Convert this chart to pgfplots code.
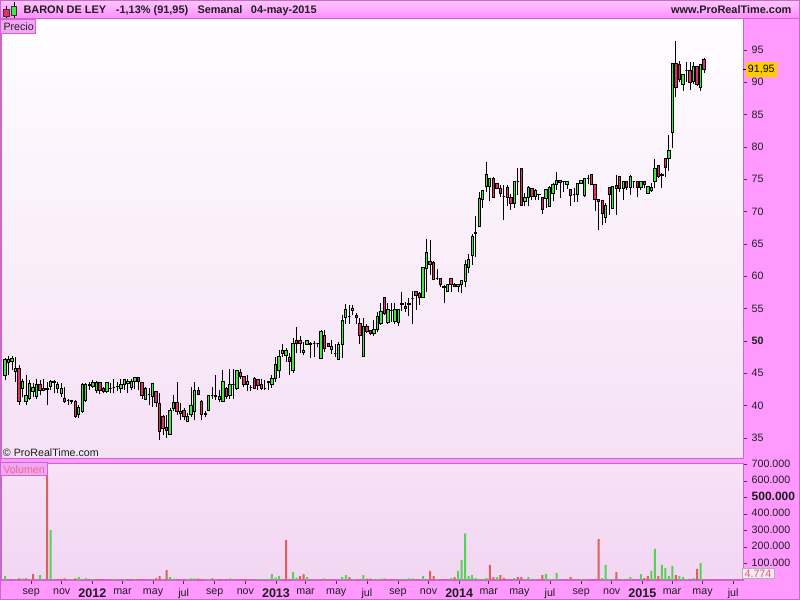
\documentclass[border=0pt]{standalone}
\usepackage{fontspec}
\setmainfont{Liberation Sans}
\usepackage{pgfplots}
\usepackage{pgfplotstable}
\pgfplotsset{compat=1.18}
\pgfdeclareplotmark{empty}{}

\definecolor{pinkbg}{RGB}{255,153,255}
\definecolor{border}{RGB}{204,102,204}
\definecolor{hdrtop}{RGB}{255,200,255}
\definecolor{hdrbot}{RGB}{255,140,255}
\definecolor{pricetop}{RGB}{255,253,255}
\definecolor{pricebot}{RGB}{245,225,245}
\definecolor{voltop}{RGB}{247,226,247}
\definecolor{volbot}{RGB}{242,214,242}
\definecolor{cgreen}{RGB}{60,235,60}
\definecolor{cred}{RGB}{228,48,100}
\definecolor{vgreen}{RGB}{85,210,85}
\definecolor{vred}{RGB}{222,95,95}
\definecolor{boxpink}{RGB}{245,165,245}
\definecolor{yellowbox}{RGB}{255,204,0}
\definecolor{voltext}{RGB}{232,110,125}
\definecolor{txt}{RGB}{30,30,30}
\definecolor{lastbox}{RGB}{250,232,250}

\newcommand\hdrfont{\fontsize{8.2}{9}\selectfont\bfseries}
\newcommand\yr[1]{{\fontsize{9.4}{10}\selectfont\bfseries #1}}

\pgfplotstableread{
i O H L C
0 44.6 47.3 43.9 47.2
1 46.6 47.7 44.7 47.2
2 46.8 47.7 45.5 47.3
3 45.3 47.6 43.7 45.7
4 45.7 46.3 40.1 40.6
5 42.7 44.1 41.4 43.8
6 40.6 44.7 40.1 41.6
7 41.1 44.0 40.9 43.5
8 42.2 43.5 41.4 42.8
9 41.4 44.2 41.1 43.2
10 43.2 44.0 41.6 42.3
11 42.3 44.2 42.2 42.7
12 42.6 43.7 40.1 42.5
13 42.9 44.0 42.4 43.7
14 43.7 43.9 42.0 43.6
15 42.7 43.7 41.9 43.3
16 41.9 43.5 41.4 42.7
17 41.1 42.9 40.4 40.6
18 40.8 41.1 40.1 40.8
19 40.7 40.9 40.3 40.8
20 40.6 40.9 38.1 38.4
21 38.6 40.1 38.1 39.7
22 39.1 43.5 38.8 43.2
23 40.8 43.5 40.5 43.2
24 43.2 43.7 42.4 43.1
25 43.0 43.9 42.7 43.6
26 42.3 43.8 41.9 43.6
27 43.6 43.7 41.8 42.3
28 42.7 42.9 41.9 42.2
29 42.2 43.7 41.9 43.6
30 42.7 43.5 41.9 42.7
31 42.8 44.2 41.9 42.8
32 42.9 43.7 42.2 43.0
33 42.7 44.2 41.9 43.2
34 43.2 44.2 42.4 44.1
35 43.5 44.2 42.0 43.8
36 42.8 44.2 42.4 43.7
37 43.7 44.4 42.5 44.4
38 44.4 44.4 42.4 43.7
39 43.6 43.7 41.1 41.6
40 40.9 42.9 40.9 42.7
41 41.8 42.7 40.1 41.8
42 41.4 43.5 39.8 43.5
43 42.2 42.2 39.8 40.5
44 40.4 41.9 34.7 36.0
45 38.4 38.6 35.5 36.5
46 36.6 38.6 35.0 36.1
47 35.6 39.6 35.5 39.3
48 39.6 41.6 39.1 40.5
49 40.5 43.7 38.6 39.1
50 38.8 40.4 37.8 39.1
51 39.2 39.6 37.8 38.4
52 37.6 38.8 37.4 38.4
53 38.7 42.9 38.3 40.1
54 39.1 43.7 37.8 42.3
55 42.3 42.9 41.6 41.8
56 40.6 40.9 37.8 38.7
57 38.7 39.2 38.2 38.8
58 39.3 41.6 39.2 41.6
59 41.5 42.9 41.1 41.5
60 41.5 44.7 40.9 41.4
61 41.0 42.4 40.6 41.4
62 40.6 45.5 40.6 43.8
63 42.7 42.9 41.1 41.4
64 41.5 45.7 41.1 43.3
65 43.2 45.7 41.1 43.2
66 42.7 45.4 42.4 45.4
67 45.2 45.7 44.2 44.5
68 44.5 44.6 42.9 43.3
69 43.3 44.7 42.2 43.8
70 42.8 43.2 42.2 42.8
71 44.2 44.5 42.6 42.7
72 44.1 44.2 42.4 43.1
73 43.2 44.2 42.4 42.7
74 42.7 44.0 42.4 42.7
75 43.6 43.8 42.4 43.8
76 43.2 44.7 42.8 44.2
77 44.2 47.6 43.7 46.4
78 45.5 48.6 44.3 47.6
79 48.0 49.6 47.6 48.6
80 47.7 48.9 46.8 48.6
81 47.5 48.1 44.7 46.8
82 45.5 50.4 45.0 49.6
83 50.0 52.2 48.1 49.6
84 50.0 50.7 48.1 49.6
85 48.2 49.9 47.8 48.6
86 49.5 50.1 49.4 50.1
87 49.6 49.9 47.4 49.4
88 49.6 50.0 47.6 49.6
89 49.6 49.7 49.0 49.6
90 47.3 51.7 47.3 51.5
91 50.8 51.7 48.3 48.9
92 49.6 49.6 49.0 49.1
93 48.7 50.2 48.0 49.1
94 48.1 49.6 47.6 48.1
95 47.2 49.9 47.2 49.5
96 49.5 54.0 47.3 53.2
97 53.7 55.7 52.7 54.9
98 53.8 55.6 52.7 53.8
99 54.7 55.6 54.0 55.1
100 54.0 54.3 52.7 53.6
101 52.7 53.5 49.5 50.8
102 47.6 53.5 47.6 52.3
103 52.3 52.7 51.2 51.4
104 51.6 51.6 50.9 51.2
105 51.2 53.2 50.8 51.7
106 51.7 54.5 51.4 53.8
107 52.7 55.8 52.5 54.6
108 56.7 56.7 54.0 54.3
109 52.8 55.8 52.6 54.8
110 54.7 55.8 53.0 54.7
111 53.0 55.8 52.7 54.8
112 52.8 55.0 52.3 54.8
113 55.7 57.6 54.7 55.8
114 55.4 56.1 54.5 55.1
115 55.7 56.6 53.8 55.8
116 56.6 57.8 52.7 56.6
117 57.6 57.8 54.8 57.0
118 57.4 57.6 55.6 56.8
119 56.8 61.4 56.7 61.4
120 61.2 65.8 57.6 63.7
121 62.3 65.6 60.2 61.9
122 62.1 62.3 59.4 59.5
123 59.7 61.2 59.5 59.7
124 59.7 59.7 58.3 58.7
125 58.2 58.7 55.8 58.5
126 57.6 58.7 57.6 58.7
127 59.7 59.7 57.5 58.8
128 58.8 59.0 58.3 58.4
129 58.4 58.8 57.5 58.8
130 58.8 59.3 57.4 59.3
131 59.2 62.6 58.3 61.8
132 61.4 63.5 60.5 62.6
133 63.2 66.5 61.8 66.2
134 66.6 69.3 63.0 66.7
135 67.7 73.1 67.7 72.1
136 71.9 73.2 70.6 73.2
137 73.9 77.7 73.1 75.8
138 73.9 75.2 71.7 75.2
139 75.2 75.3 72.1 72.2
140 74.3 74.4 73.5 73.6
141 73.6 74.1 72.2 72.8
142 72.4 74.1 68.7 72.4
143 73.8 74.1 70.8 72.2
144 72.2 72.8 70.2 71.3
145 71.3 74.6 70.6 74.6
146 74.6 76.7 72.6 74.6
147 76.7 76.7 70.8 70.9
148 71.5 72.9 70.8 72.2
149 72.2 73.9 70.8 73.7
150 73.6 73.7 71.8 72.3
151 72.3 73.5 71.8 73.3
152 72.6 72.7 71.8 72.7
153 72.2 72.2 69.6 70.3
154 72.1 73.5 70.6 73.4
155 70.8 73.9 70.8 73.7
156 72.8 74.4 71.6 74.2
157 74.2 76.2 73.4 74.8
158 74.8 74.8 72.1 74.5
159 74.6 74.8 73.1 74.6
160 74.2 74.8 73.5 74.6
161 73.4 73.4 70.8 72.5
162 72.6 73.7 71.5 72.6
163 72.6 74.4 71.5 74.4
164 74.4 74.8 74.4 74.8
165 72.5 75.2 72.3 75.2
166 75.2 75.7 74.2 75.2
167 75.8 75.8 74.2 74.2
168 74.2 74.2 70.1 71.9
169 71.9 72.0 67.2 71.5
170 71.8 71.8 67.9 69.7
171 69.1 71.3 68.2 71.0
172 73.7 73.7 69.5 72.7
173 70.5 73.9 70.5 73.9
174 74.0 75.7 69.5 73.6
175 75.4 75.4 73.1 73.6
176 73.6 74.7 71.8 74.7
177 74.7 74.7 73.3 73.7
178 73.7 75.7 72.6 75.4
179 74.7 74.7 73.6 74.7
180 74.6 74.6 72.2 73.7
181 73.7 74.7 73.3 74.6
182 74.7 74.7 73.6 74.2
183 72.8 73.9 72.8 73.9
184 73.3 74.4 73.1 73.7
185 74.6 78.2 73.6 76.7
186 77.1 77.2 75.2 75.4
187 75.6 75.9 73.6 75.7
188 78.2 78.2 75.4 76.8
189 78.2 81.9 76.3 79.5
190 82.2 92.9 79.9 92.9
191 92.9 96.4 87.8 89.2
192 92.8 93.3 90.0 90.5
193 89.7 91.2 88.7 91.2
194 91.9 93.1 90.1 91.9
195 91.9 93.2 88.8 90.0
196 90.1 93.2 89.7 92.4
197 92.4 92.4 89.5 89.6
198 89.2 92.9 88.7 92.8
199 93.6 93.7 91.5 91.95
}\candles

\pgfplotstableread{
i v
0 24000
5 10000
10 30000
13 303000
19 5000
21 18000
22 6000
23 12000
25 6000
31 6000
34 6000
37 6000
45 6000
47 18000
48 8000
52 6000
53 10000
54 10000
57 6000
58 6000
60 6000
64 10000
72 6000
73 6000
74 6000
75 6000
76 36000
77 15000
78 24000
82 48000
83 15000
86 18000
88 6000
91 10000
96 18000
97 30000
99 6000
102 30000
105 6000
106 6000
107 8000
113 6000
114 6000
115 10000
116 10000
119 24000
123 6000
127 12000
129 55000
130 121000
131 283000
132 24000
133 30000
134 12000
135 6000
136 6000
137 12000
140 18000
145 12000
148 6000
149 18000
151 6000
154 36000
155 6000
157 42000
164 6000
165 6000
170 12000
171 91000
172 6000
173 6000
176 6000
178 18000
181 36000
184 55000
185 188000
187 91000
188 73000
189 24000
190 85000
192 24000
193 18000
194 6000
196 12000
198 103000
}\volgreen

\pgfplotstableread{
i v
4 10000
6 10000
8 36000
12 632000
15 5000
16 5000
17 10000
20 10000
24 6000
26 6000
27 6000
28 6000
30 6000
35 6000
36 6000
38 6000
39 6000
41 6000
43 10000
44 24000
46 60000
49 6000
51 6000
55 8000
56 6000
59 10000
61 5000
63 6000
65 6000
67 6000
68 6000
70 6000
79 6000
80 242000
81 6000
84 24000
85 36000
90 6000
92 6000
93 6000
98 18000
101 6000
103 8000
104 8000
108 8000
110 6000
117 6000
121 55000
122 24000
124 6000
125 6000
128 18000
138 91000
139 18000
141 30000
142 12000
143 6000
144 6000
146 18000
147 18000
152 6000
153 30000
161 18000
167 6000
168 6000
169 248000
174 48000
177 6000
179 6000
182 12000
183 24000
186 24000
191 30000
195 6000
197 67000
199 4774
}\volred

\begin{document}
\begin{tikzpicture}
\useasboundingbox (0,0) rectangle (600pt,450pt);
\fill[pinkbg] (0,0) rectangle (600pt,450pt);
\begin{scope}[x=0.75pt,y=-0.75pt,yshift=450pt]
  \shade[top color=hdrtop,bottom color=hdrbot] (0,0) rectangle (800,18.5);
  \draw[border,line width=0.75pt] (0,18.5) -- (800,18.5);
\end{scope}

% ---------------- price panel ----------------
\begin{axis}[
  at={(0.75pt,105.75pt)}, anchor=south west,
  scale only axis, width=556.5pt, height=330pt,
  xmin=-1.139, xmax=210.08, ymin=31.753, ymax=99.79,
  axis background/.style={top color=pricetop, bottom color=pricebot},
  axis line style={draw=border, line width=0.75pt},
  xtick=\empty,
  ytick={35,40,45,50,55,60,65,70,75,80,85,90,95},
  yticklabels={35,40,45,\textbf{50},55,60,65,70,75,80,85,90,95},
  ytick pos=right, yticklabel pos=right,
  tick align=outside, major tick length=3pt,
  tick style={black!75, line width=0.5pt},
  yticklabel style={font=\fontsize{8}{9}\selectfont, text=txt, anchor=west},
  extra y ticks={91.95},
  extra y tick labels={91{,}95},
  extra y tick style={tick style={black, line width=0.6pt}, yticklabel style={fill=yellowbox, inner xsep=1.5pt, inner ysep=2.2pt, text=black, xshift=-1pt}},
]
\addplot[
  scatter, only marks, mark=empty,
  point meta=explicit symbolic,
  scatter/@pre marker code/.code={%
    \pgfplotstablegetelem{\pgfplotspointmeta}{O}\of\candles\let\vO\pgfplotsretval
    \pgfplotstablegetelem{\pgfplotspointmeta}{H}\of\candles\let\vH\pgfplotsretval
    \pgfplotstablegetelem{\pgfplotspointmeta}{L}\of\candles\let\vL\pgfplotsretval
    \pgfplotstablegetelem{\pgfplotspointmeta}{C}\of\candles\let\vC\pgfplotsretval
    \pgfmathsetmacro\dO{\vO-\vC}%
    \pgfmathsetmacro\dH{\vH-\vC}%
    \pgfmathsetmacro\dL{\vL-\vC}%
    \draw[black, line width=0.75pt] (axis direction cs:0,\dL) -- (axis direction cs:0,\dH);%
    \ifdim\dO pt>0pt\def\bc{cred}\else\def\bc{cgreen}\fi
    \filldraw[fill=\bc, draw=black, line width=0.75pt] (axis direction cs:-0.34,0) rectangle (axis direction cs:0.34,\dO);%
  },
  scatter/@post marker code/.code={},
] table[x=i, y=C, meta=i] {\candles};
\end{axis}

% ---------------- volume panel ----------------
\begin{axis}[
  at={(0.75pt,15pt)}, anchor=south west,
  scale only axis, width=556.5pt, height=87.75pt,
  xmin=-1.139, xmax=210.08, ymin=0, ymax=709090,
  axis background/.style={top color=voltop, bottom color=volbot},
  axis line style={draw=border, line width=0.75pt},
  xtick={7.43,16.14,24.86,33.43,42.14,50.86,59.71,68.43,77.14,85.57,94.29,103.0,111.86,120.57,129.29,137.71,146.43,155.14,164.0,172.71,181.43,189.86,198.57,207.29},
  xticklabels={sep,nov,\yr{2012},mar,may,jul,sep,nov,\yr{2013},mar,may,jul,sep,nov,\yr{2014},mar,may,jul,sep,nov,\yr{2015},mar,may,jul},
  xtick pos=bottom,
  ytick={100000,200000,300000,400000,500000,600000,700000},
  yticklabels={100.000,200.000,300.000,400.000,{\fontsize{9}{10}\selectfont\bfseries 500.000},600.000,700.000},
  scaled y ticks=false,
  ytick pos=right, yticklabel pos=right,
  tick align=outside, major tick length=3pt,
  tick style={black!75, line width=0.5pt},
  yticklabel style={font=\fontsize{8}{9}\selectfont, text=txt, anchor=west, yshift=0.8pt},
  xticklabel style={font=\fontsize{8}{9}\selectfont, text=txt},
  extra y ticks={4774},
  extra y tick labels={4.774},
  extra y tick style={major tick length=0pt, yticklabel style={fill=lastbox, draw=black!30, inner xsep=2pt, inner ysep=1.2pt, text=vred, yshift=3.6pt, xshift=-1pt}},
]
\addplot[ybar, bar width=0.57, bar shift=0pt, fill=vgreen, draw=none] table[x=i, y=v] {\volgreen};
\addplot[ybar, bar width=0.57, bar shift=0pt, fill=vred, draw=none] table[x=i, y=v] {\volred};
\end{axis}

% ---------------- labels ----------------
\begin{scope}[x=0.75pt,y=-0.75pt,yshift=450pt]
  \draw[border,line width=0.75pt] (0.5,0.5) rectangle (799.5,599.5);
  % header icon
  \draw[black,line width=0.6pt] (6.2,6.5) -- (6.2,18);
  \filldraw[fill=cred,draw=black!80,line width=0.5pt] (3.5,9.5) rectangle (9,16);
  \draw[black,line width=0.6pt] (13.9,2.5) -- (13.9,18);
  \filldraw[fill=cgreen,draw=black!80,line width=0.5pt] (11.2,6) rectangle (16.7,15);
  \node[anchor=base west,inner sep=0,font=\hdrfont,text=txt] at (23.3,14) {BARON DE LEY};
  \node[anchor=base west,inner sep=0,font=\hdrfont,text=txt] at (115.7,14) {-1,13\% (91,95)};
  \node[anchor=base west,inner sep=0,font=\hdrfont,text=txt] at (197.3,14) {Semanal};
  \node[anchor=base west,inner sep=0,font=\hdrfont,text=txt] at (250.7,14) {04-may-2015};
  \node[anchor=base east,inner sep=0,font=\hdrfont,text=txt] at (791.7,14) {www.ProRealTime.com};
  % Precio box
  \filldraw[fill=boxpink,draw=border,line width=0.75pt] (0.5,19.5) rectangle (35.5,33.5);
  \node[anchor=base west,inner sep=0,font=\fontsize{8}{9}\selectfont,text=txt] at (3.3,30.5) {Precio};
  % Volumen box
  \filldraw[fill=boxpink,draw=border,line width=0.75pt] (0.5,462.5) rectangle (47.7,475.7);
  \node[anchor=base west,inner sep=0,font=\fontsize{8}{9}\selectfont,text=voltext] at (3,473.3) {Volumen};
  % copyright
  \node[anchor=base west,inner sep=0,font=\fontsize{8}{9}\selectfont,text=txt] at (2.7,457) {\textcopyright{} ProRealTime.com};
\end{scope}
\end{tikzpicture}
\end{document}
